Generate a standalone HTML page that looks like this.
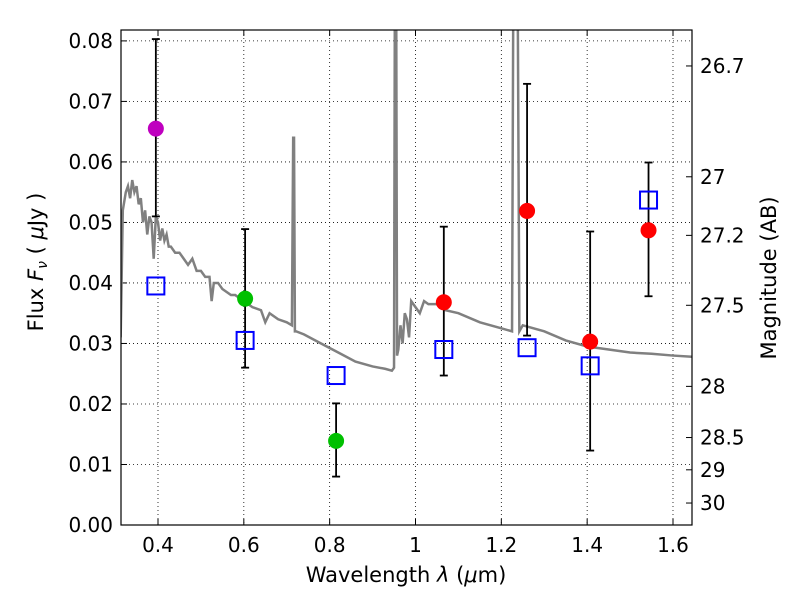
<!DOCTYPE html>
<html><head><meta charset="utf-8"><style>
body{margin:0;background:#fff}
text{font-family:"DejaVu Sans","Liberation Sans",sans-serif;fill:#000}
</style></head><body>
<svg id="c" width="800" height="600" xmlns="http://www.w3.org/2000/svg"></svg>
<script>
const specX=[0.313,0.318,0.325,0.33,0.335,0.34,0.345,0.35,0.355,0.36,0.365,0.37,0.375,0.38,0.385,0.39,0.395,0.40,0.405,0.41,0.415,0.42,0.425,0.43,0.44,0.45,0.46,0.47,0.48,0.49,0.50,0.51,0.52,0.525,0.53,0.54,0.55,0.56,0.57,0.58,0.59,0.60,0.62,0.64,0.65,0.66,0.68,0.70,0.712,0.715,0.717,0.719,0.722,0.74,0.78,0.82,0.86,0.90,0.93,0.945,0.950,0.952,0.955,0.957,0.960,0.965,0.97,0.975,0.98,0.985,0.99,1.0,1.01,1.02,1.03,1.05,1.07,1.10,1.15,1.20,1.225,1.228,1.232,1.238,1.242,1.25,1.3,1.35,1.4,1.45,1.5,1.55,1.6,1.644];
const specY=[0.031,0.052,0.055,0.056,0.054,0.057,0.055,0.056,0.053,0.054,0.050,0.052,0.048,0.051,0.050,0.044,0.051,0.050,0.047,0.049,0.047,0.048,0.046,0.046,0.045,0.045,0.044,0.043,0.044,0.042,0.042,0.041,0.041,0.037,0.040,0.040,0.039,0.0385,0.038,0.038,0.0375,0.037,0.036,0.0355,0.0335,0.035,0.034,0.0335,0.033,0.064,0.064,0.032,0.032,0.0315,0.030,0.0285,0.027,0.0262,0.0258,0.0255,0.026,0.09,0.09,0.028,0.029,0.033,0.030,0.035,0.034,0.031,0.037,0.036,0.035,0.037,0.0365,0.0365,0.0355,0.035,0.0335,0.0325,0.032,0.09,0.09,0.09,0.032,0.033,0.032,0.0305,0.0295,0.029,0.0285,0.0283,0.028,0.0278];
const bandX=[0.395,0.603,0.815,1.066,1.26,1.407,1.543];
const obsY=[0.0655,0.0374,0.0139,0.0368,0.0519,0.0303,0.0487];
const errLo=[0.051,0.026,0.008,0.0247,0.0313,0.0123,0.0378];
const errHi=[0.0803,0.0489,0.0201,0.0493,0.0729,0.0485,0.0599];
const colors=["#bf00bf","#00c000","#00c000","red","red","red","red"];
const modelY=[0.0395,0.0305,0.0247,0.029,0.0293,0.0263,0.0537];
const xTicks=[0.4,0.6,0.8,1.0,1.2,1.4,1.6];
const xLabels=["0.4","0.6","0.8","1","1.2","1.4","1.6"];
const yTicks=[0,0.01,0.02,0.03,0.04,0.05,0.06,0.07,0.08];
const magTicks=[26.7,27,27.2,27.5,28,28.5,29,30];

const L=121,R=692,T=30,B=525,X0=0.3138,X1=1.6443,Y0=0,Y1=0.0818;
const sx=v=>L+(v-X0)/(X1-X0)*(R-L);
const sy=v=>B-(v-Y0)/(Y1-Y0)*(B-T);
const svg=document.getElementById('c');
const NS="http://www.w3.org/2000/svg";
function mk(t,a,p){const e=document.createElementNS(NS,t);for(const k in a)e.setAttribute(k,a[k]);(p||svg).appendChild(e);return e;}
const clip=mk('clipPath',{id:'cl'});mk('rect',{x:L,y:T,width:R-L,height:B-T},clip);
xTicks.forEach((v,i)=>{
 const g=mk('line',{x1:sx(v),x2:sx(v),y1:T,y2:B,stroke:'#000','stroke-dasharray':'1,3','stroke-width':0.8});
 
 mk('line',{x1:sx(v),x2:sx(v),y1:B,y2:B-6,stroke:'#000'});mk('line',{x1:sx(v),x2:sx(v),y1:T,y2:T+6,stroke:'#000'});
 const t=mk('text',{x:sx(v),y:B+27,'text-anchor':'middle','font-size':20});t.textContent=xLabels[i];
 
});
yTicks.forEach(v=>{
 if(v>0){const g=mk('line',{x1:L,x2:R,y1:sy(v),y2:sy(v),stroke:'#000','stroke-dasharray':'1,3','stroke-width':0.8});
 }
 mk('line',{x1:L,x2:L+6,y1:sy(v),y2:sy(v),stroke:'#000'});
 const t=mk('text',{x:L-8,y:sy(v)+7,'text-anchor':'end','font-size':20});t.textContent=v.toFixed(2);
 
});
magTicks.forEach(m=>{
 const f=Math.pow(10,(23.9-m)/2.5);const y=sy(f);
 mk('line',{x1:R,x2:R-6,y1:y,y2:y,stroke:'#000'});
 const t=mk('text',{x:R+8,y:y+7,'font-size':20});t.textContent=String(m);
 
});
const sp=mk('polyline',{points:specX.map((x,i)=>sx(x)+','+sy(specY[i])).join(' '),fill:'none',stroke:'#808080','stroke-width':2.5,'clip-path':'url(#cl)'});

bandX.forEach((x,i)=>{
 const X=sx(x);
 const e=mk('line',{x1:X,x2:X,y1:sy(errLo[i]),y2:sy(errHi[i]),stroke:'#000','stroke-width':1.8});
 
 mk('line',{x1:X-4,x2:X+4,y1:sy(errLo[i]),y2:sy(errLo[i]),stroke:'#000','stroke-width':1.8});
 mk('line',{x1:X-4,x2:X+4,y1:sy(errHi[i]),y2:sy(errHi[i]),stroke:'#000','stroke-width':1.8});
 const c=mk('circle',{cx:X,cy:sy(obsY[i]),r:8,fill:colors[i]});
 
 const s=mk('rect',{x:X-8.5,y:sy(modelY[i])-8.5,width:17,height:17,fill:'none',stroke:'#0000ff','stroke-width':2});
 
});
const fr=mk('rect',{x:L,y:T,width:R-L,height:B-T,fill:'none',stroke:'#000','stroke-width':1.2});

let t=mk('text',{x:406,y:582,'text-anchor':'middle','font-size':21});t.innerHTML='Wavelength  <tspan font-style="italic">λ</tspan> (<tspan font-style="italic">μ</tspan>m)';

t=mk('text',{x:0,y:0,'text-anchor':'middle','font-size':21,transform:'translate(43,262) rotate(-90)'});t.innerHTML='Flux  <tspan font-style="italic">F</tspan><tspan font-style="italic" font-size="14" dy="4">ν</tspan><tspan dy="-4">  (  </tspan><tspan font-style="italic">μ</tspan>Jy )';

t=mk('text',{x:0,y:0,'text-anchor':'middle','font-size':21,transform:'translate(776,278) rotate(-90)'});t.textContent='Magnitude (AB)';

</script>
</body></html>
